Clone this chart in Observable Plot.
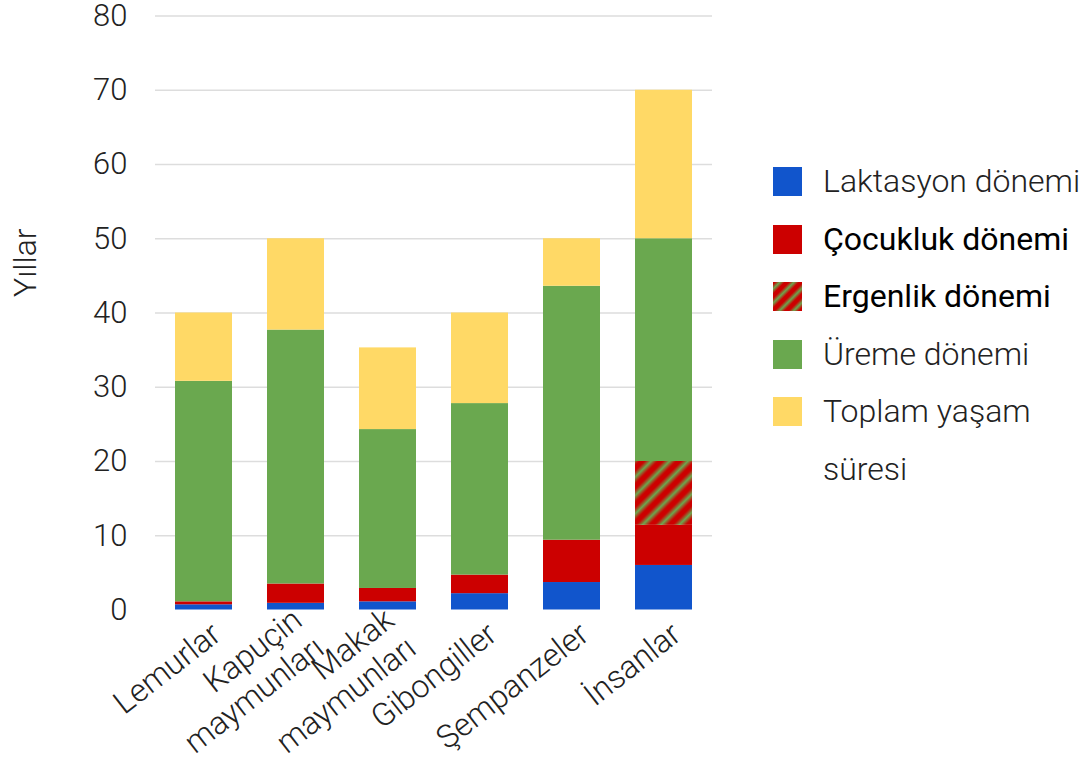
<!DOCTYPE html>
<html>
<head>
<meta charset="utf-8">
<script src="https://cdn.jsdelivr.net/npm/d3@7"></script>
<script src="https://cdn.jsdelivr.net/npm/@observablehq/plot@0.6"></script>
<style>
  body { margin: 0; background: #fff; font-family: Roboto, sans-serif; }
  #wrap { position: relative; width: 1084px; height: 757px; overflow: hidden; background: #fff; }
  #chart { position: absolute; left: 0; top: 0; }
  #legend { position: absolute; left: 773px; top: 153px; }
  .item { display: flex; align-items: flex-start; }
  .sw { width: 29px; height: 29px; margin-top: 14px; margin-right: 21px; flex: none; }
  .lab { font-size: 32px; line-height: 57.5px; color: #222; width: 262px; }
</style>
</head>
<body>
<div id="wrap"><div id="chart"></div><div id="legend"></div></div>
<script>
// Categories (x axis)
const categories = ["Lemurlar", "Kapuçin maymunları", "Makak maymunları", "Gibongiller", "Şempanzeler", "İnsanlar"];

// Series names (stack order bottom → top)
const seriesNames = ["Laktasyon dönemi", "Çocukluk dönemi", "Ergenlik dönemi", "Üreme dönemi", "Toplam yaşam süresi"];

// Segment durations in years, per category
const laktasyon = [0.7, 0.9, 1.1, 2.2, 3.7, 6.0];
const cocukluk  = [0.4, 2.6, 1.8, 2.5, 5.7, 5.4];
const ergenlik  = [0,   0,   0,   0,   0,   8.6];
const ureme     = [29.7, 34.2, 21.4, 23.1, 34.2, 30.0];
const toplam    = [9.2, 12.3, 11.0, 12.2, 6.4, 20.0];

// Y axis ticks
const yTicks = [0, 10, 20, 30, 40, 50, 60, 70, 80];
const yLabel = "Yıllar";

// Styling
const seriesColors = ["#1155cc", "#cc0000", "url(#ergenlik-hatch)", "#6aa84f", "#ffd966"];
const legendWeights = [300, 400, 400, 300, 300];
const legendTextColors = ["#222", "#000", "#000", "#222", "#222"];

const seriesValues = [laktasyon, cocukluk, ergenlik, ureme, toplam];
const data = categories.flatMap((c, i) =>
  seriesNames.map((s, j) => ({category: c, series: s, value: seriesValues[j][i]}))
);

const chart = Plot.plot({
  width: 740,
  height: 757,
  marginLeft: 155,
  marginRight: 28,
  marginTop: 15.5,
  marginBottom: 147.5,
  style: {fontFamily: "Roboto", fontWeight: 300, color: "#222", background: "white", overflow: "visible"},
  x: {domain: categories, paddingInner: 0.385, paddingOuter: 0.19, axis: null},
  y: {domain: [0, 80], axis: null},
  color: {type: "ordinal", domain: seriesNames, range: seriesColors},
  marks: [
    Plot.gridY(yTicks.filter(t => t > 0), {stroke: "#dddddd", strokeOpacity: 1, strokeWidth: 1.5}),
    Plot.barY(data, {x: "category", y: "value", fill: "series"}),
    Plot.axisY(yTicks, {tickSize: 0, tickPadding: 28, fontSize: 31, label: null}),
    Plot.axisX({
      tickSize: 0, tickPadding: 19, tickRotate: -38, textAnchor: "end", lineAnchor: "middle",
      dx: 12, fontSize: 32, lineHeight: 1.12, label: null,
      tickFormat: d => d.replace(" ", "\n")
    }),
    Plot.text([yLabel], {text: d => d, frameAnchor: "left", rotate: -90, dx: -130, dy: -16, fontSize: 32, fill: "#222"})
  ]
});

// hatch pattern for "Ergenlik dönemi"
const svg = d3.select(chart);
const defs = svg.insert("defs", ":first-child");
const grad = defs.append("linearGradient").attr("id", "hatch-grad")
  .attr("x1", 0).attr("x2", 1).attr("y1", 0).attr("y2", 0);
[[0, "#cc0000"], [0.15, "#cc0000"], [0.5, "#6aa84f"], [0.85, "#cc0000"], [1, "#cc0000"]].forEach(([o, c]) =>
  grad.append("stop").attr("offset", o).attr("stop-color", c));
const pat = defs.append("pattern").attr("id", "ergenlik-hatch")
  .attr("patternUnits", "userSpaceOnUse").attr("width", 13).attr("height", 13)
  .attr("patternTransform", "rotate(45)");
pat.append("rect").attr("width", 13).attr("height", 13).attr("fill", "url(#hatch-grad)");

document.getElementById("chart").appendChild(chart);

// Legend
const legend = d3.select("#legend");
seriesNames.forEach((s, i) => {
  const item = legend.append("div").attr("class", "item");
  const sw = item.append("div").attr("class", "sw");
  if (seriesColors[i].startsWith("url")) {
    sw.style("background", "repeating-linear-gradient(135deg, #cc0000 0px, #cc0000 1.5px, #6aa84f 5px, #cc0000 8.5px, #cc0000 10px)");
  } else {
    sw.style("background", seriesColors[i]);
  }
  item.append("div").attr("class", "lab")
    .style("font-weight", legendWeights[i])
    .style("color", legendTextColors[i])
    .text(s);
});
</script>
</body>
</html>
